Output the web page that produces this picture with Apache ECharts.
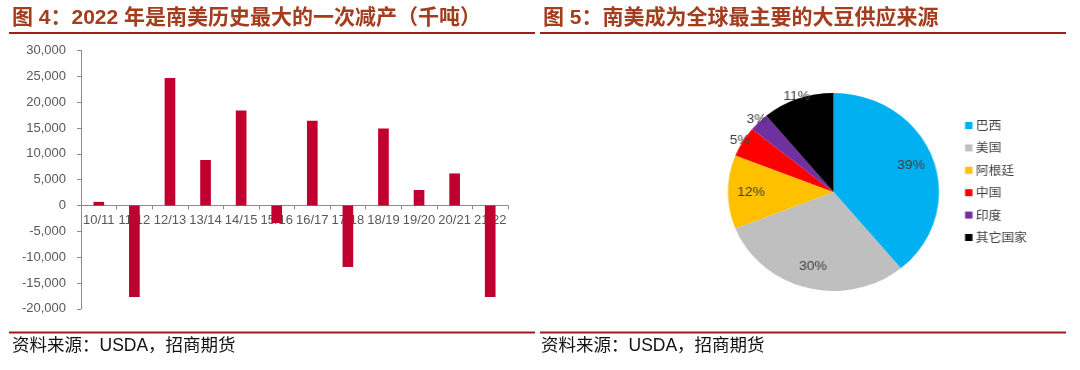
<!DOCTYPE html>
<html>
<head>
<meta charset="utf-8">
<script src="https://cdn.jsdelivr.net/npm/echarts@6/dist/echarts.min.js"></script>
<style>
  html, body { margin: 0; padding: 0; background: #fff; }
  #wrap { position: relative; width: 1080px; height: 370px; overflow: hidden; }
  #main { position: absolute; left: 0; top: 0; width: 1080px; height: 370px; }
  /* the pie panel is drawn slightly wider than tall */
  #pie { position: absolute; left: 540px; top: 0; width: 506.5px; height: 370px;
         transform-origin: 0 0; transform: scaleX(1.066); }
</style>
</head>
<body>
<div id="wrap"><div id="main"></div><div id="pie"></div></div>
<script>
// ---- Figure 4: year-on-year change of South American soybean output (kt)
const seasons = ['10/11', '11/12', '12/13', '13/14', '14/15', '15/16',
                 '16/17', '17/18', '18/19', '19/20', '20/21', '21/22'];
const outputChange = [700, -17700, 24700, 8800, 18400, -3400,
                      16400, -11900, 14900, 3000, 6200, -17700];
const yMin = -20000;
const yMax = 30000;
const yStep = 5000;

// ---- Figure 5: main soybean supply origins (share, %)
const origins = ['巴西', '美国', '阿根廷', '中国', '印度', '其它国家'];
const originShare = [39, 30, 12, 5, 3, 11];

// ---- texts
const title4 = '图 4：2022 年是南美历史最大的一次减产（千吨）';
const title5 = '图 5：南美成为全球最主要的大豆供应来源';
const sourceNote = '资料来源：USDA，招商期货';

// ---- styles
const barColor = '#C0002F';
const originColors = ['#00B0F0', '#BFBFBF', '#FFC000', '#FF0000', '#7030A0', '#000000'];
const titleColor = '#A43C1E';
const ruleColor = '#9E1B1E';
const axisGray = '#8C8C8C';
const labelGray = '#595959';
const cjk = '"Noto Sans CJK SC", "Liberation Sans", sans-serif';
const mixed = '"Liberation Sans", "Noto Sans CJK SC", sans-serif';
const latin = '"Liberation Sans", Arial, sans-serif';

// bar panel geometry
const grid4 = { left: 81, right: 572, top: 50.5, bottom: 61.2 };
const plotH = 370 - grid4.top - grid4.bottom;
// distance of the zero line above the plot bottom, so the category axis runs along y = 0
const zeroLift = (0 - yMin) / (yMax - yMin) * plotH;

function rule(x1, x2, y) {
  return { type: 'line', silent: true,
           shape: { x1: x1, y1: y, x2: x2, y2: y },
           style: { stroke: ruleColor, lineWidth: 2 } };
}
function headText(x, y, text) {
  return { type: 'text', x: x, y: y, silent: true,
           style: { text: text, fill: titleColor, font: 'bold 21px ' + mixed,
                    textVerticalAlign: 'middle', verticalAlign: 'middle' } };
}
function footText(x, y, text) {
  return { type: 'text', x: x, y: y, silent: true,
           style: { text: text, fill: '#111', font: '17.5px ' + mixed,
                    textVerticalAlign: 'middle', verticalAlign: 'middle' } };
}

const main = echarts.init(document.getElementById('main'), null, { renderer: 'canvas' });
main.setOption({
  animation: false,
  backgroundColor: '#fff',
  graphic: [
    headText(12, 18, title4),
    headText(543, 18, title5),
    rule(9, 535, 33),
    rule(540, 1066, 33),
    rule(9, 535, 332.5),
    rule(540, 1066, 332.5),
    footText(12, 346, sourceNote),
    footText(541, 346, sourceNote)
  ],
  grid: grid4,
  xAxis: {
    type: 'category',
    data: seasons,
    position: 'bottom',
    offset: -zeroLift,
    axisLine: { onZero: false, lineStyle: { color: axisGray, width: 1 } },
    axisTick: { show: true, alignWithLabel: false, length: 4, lineStyle: { color: axisGray } },
    axisLabel: { color: labelGray, fontSize: 13, fontFamily: latin, margin: 8, interval: 0 },
    splitLine: { show: false },
    z: 1
  },
  yAxis: {
    type: 'value',
    min: yMin, max: yMax, interval: yStep,
    axisLine: { show: true, lineStyle: { color: axisGray, width: 1 } },
    axisTick: { show: true, length: 4, lineStyle: { color: axisGray } },
    axisLabel: { color: labelGray, fontSize: 13, fontFamily: latin, margin: 15,
                 formatter: v => v.toLocaleString('en-US') },
    splitLine: { show: false }
  },
  series: [{
    type: 'bar',
    data: outputChange,
    barWidth: '30%',
    itemStyle: { color: barColor },
    z: 3
  }]
});

// ---- pie panel (internal coordinates, stretched horizontally by the container)
const pieCenter = [275.3, 192];
const R = 99;
const pieData = origins.map((n, i) => ({ name: n, value: originShare[i],
                                          itemStyle: { color: originColors[i] } }));
const hidden = { color: 'rgba(0,0,0,0)' };
const pctLabel = { color: '#404040', fontSize: 13, fontFamily: latin,
                   formatter: p => p.value + '%' };

const pie = echarts.init(document.getElementById('pie'), null, { renderer: 'canvas' });
pie.setOption({
  animation: false,
  legend: {
    orient: 'vertical',
    left: 398.7, top: 119.5, padding: 0,
    itemWidth: 7, itemHeight: 7, itemGap: 10.4,
    icon: 'rect',
    selectedMode: false,
    textStyle: { color: '#404040', fontSize: 12, fontFamily: cjk, padding: [0, 0, 0, -2] },
    data: origins.map((n, i) => ({ name: n, itemStyle: { color: originColors[i] } }))
  },
  series: [
    { // the slices
      type: 'pie', center: pieCenter, radius: [0, R],
      startAngle: 90, clockwise: true,
      label: { show: false }, labelLine: { show: false },
      emphasis: { disabled: true },
      data: pieData
    },
    { // labels of the larger slices, placed well inside the disc
      type: 'pie', center: pieCenter, radius: [R * 0.5, R],
      startAngle: 90, clockwise: true, silent: true,
      itemStyle: hidden, emphasis: { disabled: true },
      label: Object.assign({ position: 'inside' }, pctLabel),
      labelLine: { show: false },
      data: origins.map((n, i) => ({ name: n, value: originShare[i], itemStyle: hidden,
                                     label: { show: originShare[i] >= 12 } }))
    },
    { // labels of the thin slices, sitting on the rim
      type: 'pie', center: pieCenter, radius: [R * 0.9, R * 1.1],
      startAngle: 90, clockwise: true, silent: true,
      itemStyle: hidden, emphasis: { disabled: true },
      label: Object.assign({ position: 'inside' }, pctLabel),
      labelLine: { show: false },
      data: origins.map((n, i) => ({ name: n, value: originShare[i], itemStyle: hidden,
                                     label: { show: originShare[i] < 12 } }))
    }
  ]
});
</script>
</body>
</html>
